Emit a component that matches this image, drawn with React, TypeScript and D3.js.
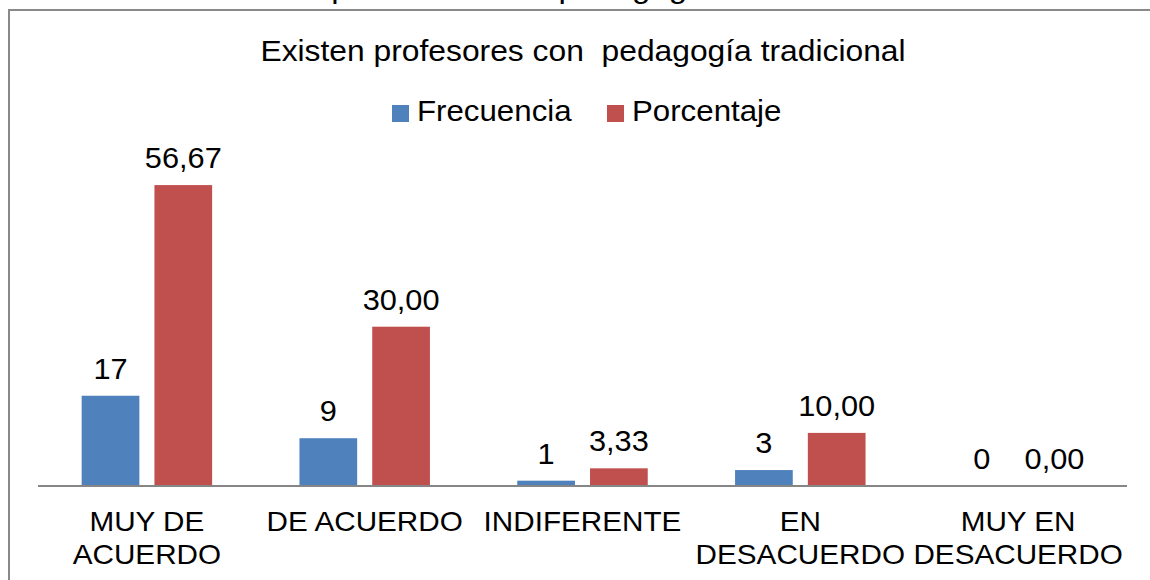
import React from "react";
import * as d3 from "d3";

const categories = ["MUY DE ACUERDO", "DE ACUERDO", "INDIFERENTE", "EN DESACUERDO", "MUY EN DESACUERDO"];
const categoryLines = [["MUY DE", "ACUERDO"], ["DE ACUERDO"], ["INDIFERENTE"], ["EN", "DESACUERDO"], ["MUY EN", "DESACUERDO"]];
const seriesNames = ["Frecuencia", "Porcentaje"];
const frecuencia = [17, 9, 1, 3, 0];
const porcentaje = [56.67, 30.0, 3.33, 10.0, 0.0];
const colors = ["#4F81BD", "#C0504D"];
const title = "Existen profesores con  pedagogía tradicional";
const topCaption = "Existen profesores con pedagogía tradicional";

const font = "'Liberation Sans', Arial, sans-serif";
const stretch = "scale(1.06,1)";

const fmtPct = (v: number) => d3.format(".2f")(v).replace(".", ",");

export default function App() {
  const width = 1150;
  const height = 580;
  const axisY = 486;

  const x0 = d3.scaleBand<string>().domain(categories).range([38, 1127]).paddingInner(0).paddingOuter(0);
  const x1 = d3
    .scaleBand<string>()
    .domain(seriesNames)
    .range([0, x0.bandwidth()])
    .paddingInner(0.207)
    .paddingOuter(0.6);
  const y = d3.scaleLinear().domain([0, 60]).range([axisY, 167.4]);

  const series = [
    { name: seriesNames[0], values: frecuencia, fmt: (v: number) => String(v) },
    { name: seriesNames[1], values: porcentaje, fmt: fmtPct },
  ];

  return (
    <svg
      width={width}
      height={height}
      style={{ position: "absolute", left: 0, top: 0, background: "#fff" }}
      fontFamily={font}
    >
      <rect x={0} y={0} width={width} height={height} fill="#fff" />
      {/* caption of the page above the chart, cut off */}
      <text transform={`translate(214,-2) scale(1.1,1)`} fontSize={30} fill="#000">
        {topCaption}
      </text>
      <rect x={9} y={10} width={1200} height={700} fill="none" stroke="#898989" strokeWidth={2} />

      <text
        transform={`translate(583,61) ${stretch}`}
        textAnchor="middle"
        fontSize={30}
        fill="#000"
        style={{ whiteSpace: "pre" }}
      >
        {title}
      </text>

      {/* legend */}
      {[392, 607].map((lx, i) => (
        <g key={seriesNames[i]}>
          <rect x={lx} y={105} width={17} height={17} fill={colors[i]} />
          <text transform={`translate(${lx + 25},121) ${stretch}`} fontSize={29.5} fill="#000">
            {seriesNames[i]}
          </text>
        </g>
      ))}

      {/* bars */}
      {series.map((s, si) => (
        <g key={s.name}>
          {categories.map((c, ci) => {
            const bx = (x0(c) ?? 0) + (x1(s.name) ?? 0);
            const v = s.values[ci];
            const top = y(v);
            return (
              <g key={c}>
                <rect x={bx} y={top} width={x1.bandwidth()} height={axisY - top} fill={colors[si]} />
                <text
                  transform={`translate(${bx + x1.bandwidth() / 2},${top - 17}) ${stretch}`}
                  textAnchor="middle"
                  fontSize={29}
                  fill="#000"
                >
                  {s.fmt(v)}
                </text>
              </g>
            );
          })}
        </g>
      ))}

      {/* axis line */}
      <line x1={38} x2={1127} y1={axisY} y2={axisY} stroke="#868686" strokeWidth={2} />

      {/* category labels */}
      {categories.map((c, ci) => {
        const cx = (x0(c) ?? 0) + x0.bandwidth() / 2;
        return categoryLines[ci].map((line, li) => (
          <text
            key={c + li}
            transform={`translate(${cx},${531 + li * 33}) ${stretch}`}
            textAnchor="middle"
            fontSize={28}
            fill="#000"
          >
            {line}
          </text>
        ));
      })}
    </svg>
  );
}
